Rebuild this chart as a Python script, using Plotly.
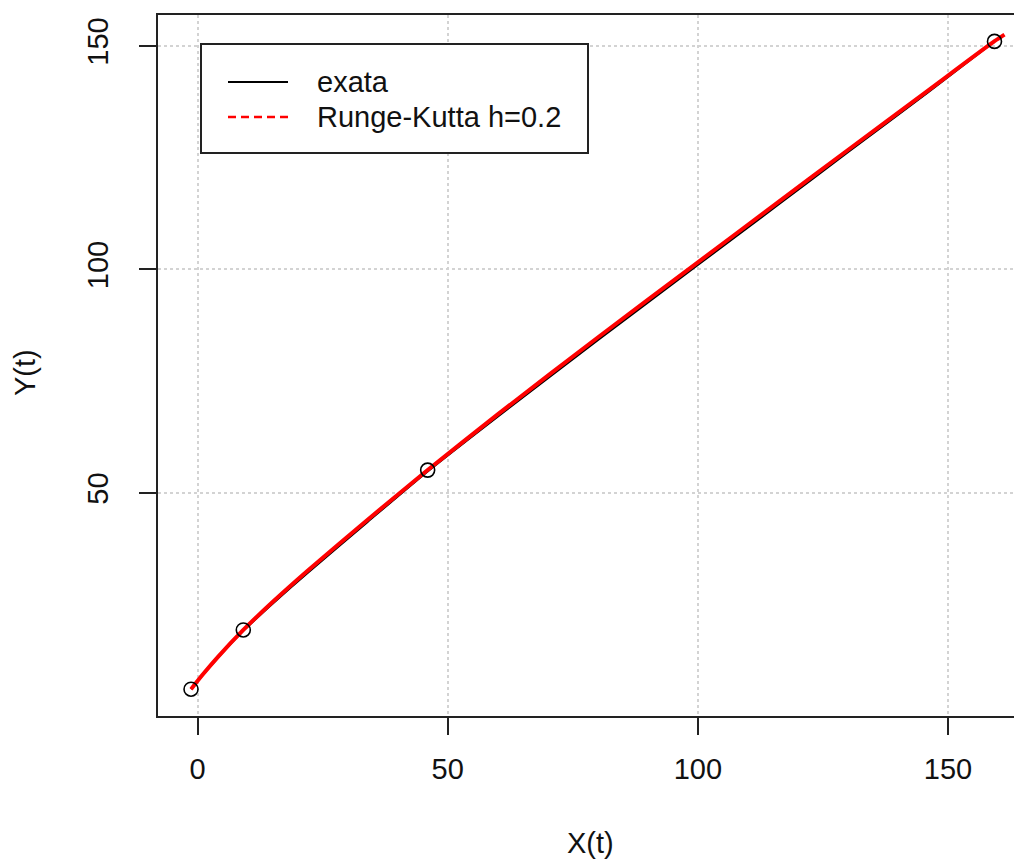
import plotly.graph_objects as go

# Runge-Kutta (h=0.2) trajectory, Y(t) against X(t)
rk_x = [-1.3, 1, 4, 9.15, 15, 22, 34, 46, 60, 80, 100, 116, 130, 146, 159.3, 161.3]
rk_y = [6.1, 9.32, 13.22, 19.35, 25.61, 32.61, 44.01, 55.11, 67.57, 84.77, 101.57, 115.0, 126.7, 140.0, 151.04, 152.5]

# exact solution
ex_x = [-1.3, 1, 4, 9.15, 15, 22, 34, 46, 60, 80, 100, 116, 130, 146, 159.3]
ex_y = [6.1, 9.22, 13.02, 19.15, 25.21, 32.11, 43.51, 54.81, 67.07, 84.17, 100.97, 114.4, 126.2, 139.6, 151.0]

# exact solution sampled at integer times
pt_x = [-1.3, 9.15, 46.0, 159.3]
pt_y = [6.1, 19.35, 55.1, 151.0]

x_ticks = [0, 50, 100, 150]
y_ticks = [50, 100, 150]

legend_labels = ["exata", "Runge-Kutta h=0.2"]

FONT = "Liberation Sans, Arial, sans-serif"
W, H = 1014, 861
L, R, T, B = 158, 0, 15, 145
PW, PH = W - L - R, H - T - B


def px(xp):
    return (xp - L) / PW


def py(yp):
    return (H - B - yp) / PH


fig = go.Figure()

fig.add_trace(go.Scatter(
    x=ex_x, y=ex_y, mode="lines", line_shape="spline",
    line=dict(color="black", width=2, smoothing=0.6),
    showlegend=False,
))
fig.add_trace(go.Scatter(
    x=rk_x, y=rk_y, mode="lines", line_shape="spline",
    line=dict(color="#ff0000", width=4, smoothing=0.6),
    showlegend=False,
))
fig.add_trace(go.Scatter(
    x=pt_x, y=pt_y, mode="markers",
    marker=dict(symbol="circle-open", size=14, color="black", line=dict(width=1.6)),
    showlegend=False,
))

axis_common = dict(
    showline=True, linecolor="#222", linewidth=2,
    ticks="outside", ticklen=17, tickwidth=2, tickcolor="#222",
    showgrid=True, gridcolor="#d3d3d3", griddash="dot", gridwidth=1.5,
    zeroline=False,
    tickfont=dict(family=FONT, size=29, color="#111"),
)

fig.update_xaxes(range=[-7.9, 163.2], tickvals=x_ticks, mirror=True,
                 ticklabelstandoff=9, **axis_common)
fig.update_yaxes(range=[0.1, 156.9], tickvals=y_ticks, tickangle=-90,
                 ticklabelstandoff=19, **axis_common)

# legend box
shapes = [
    dict(type="rect", xref="paper", yref="paper",
         x0=px(201), x1=px(588), y0=py(153), y1=py(44),
         line=dict(color="#222", width=2), fillcolor="white", layer="above"),
    dict(type="line", xref="paper", yref="paper",
         x0=px(228), x1=px(288), y0=py(82), y1=py(82),
         line=dict(color="black", width=2), layer="above"),
    dict(type="line", xref="paper", yref="paper",
         x0=px(228), x1=px(288), y0=py(117), y1=py(117),
         line=dict(color="#ff0000", width=2.5, dash="8px,5px"), layer="above"),
]

annotations = [
    dict(text=legend_labels[0], xref="paper", yref="paper", x=px(315), y=py(82),
         xanchor="left", yanchor="middle", showarrow=False,
         font=dict(family=FONT, size=29, color="#111")),
    dict(text=legend_labels[1], xref="paper", yref="paper", x=px(315), y=py(117),
         xanchor="left", yanchor="middle", showarrow=False,
         font=dict(family=FONT, size=29, color="#111")),
    dict(text="X(t)", xref="paper", yref="paper", x=px(590), y=py(843),
         xanchor="center", yanchor="middle", showarrow=False,
         font=dict(family=FONT, size=29, color="#111")),
    dict(text="Y(t)", xref="paper", yref="paper", x=px(25), y=py(373),
         xanchor="center", yanchor="middle", showarrow=False, textangle=-90,
         font=dict(family=FONT, size=29, color="#111")),
]

fig.update_layout(
    width=W, height=H, autosize=False,
    margin=dict(l=L, r=R, t=T, b=B, pad=0),
    paper_bgcolor="white", plot_bgcolor="white",
    shapes=shapes, annotations=annotations,
    showlegend=False,
)

fig.write_html("out.html")
